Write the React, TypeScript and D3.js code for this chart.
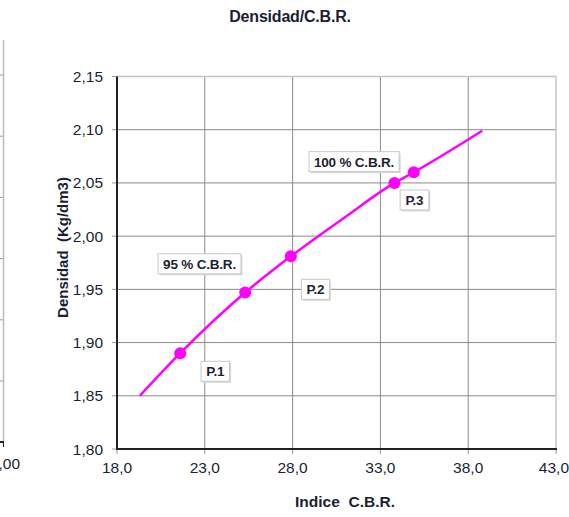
import React, { useEffect, useRef } from "react";
import * as d3 from "d3";

const title = "Densidad/C.B.R.";
const xTitle = "Indice  C.B.R.";
const yTitle = "Densidad  (Kg/dm3)";
const xTicks = [18, 23, 28, 33, 38, 43];
const yTicks = [1.8, 1.85, 1.9, 1.95, 2.0, 2.05, 2.1, 2.15];
const pointX = [21.6, 25.3, 27.9, 33.8, 34.9];
const pointY = [1.89, 1.947, 1.981, 2.05, 2.06];
const curveX = [19.3, 21.6, 25.3, 27.9, 31.0, 33.8, 34.9, 38.8];
const curveY = [1.85, 1.89, 1.947, 1.981, 2.018, 2.05, 2.06, 2.099];
const labelText = ["100 % C.B.R.", "95 % C.B.R.", "P.1", "P.2", "P.3"];
const labelX = [31.5, 22.7, 23.6, 29.3, 34.94];
const labelY = [2.07, 1.974, 1.873, 1.95, 2.034];
const leftChartLabel = "4,00";

const W = 569;
const H = 517;
const M = { left: 117, right: 556, top: 76.5, bottom: 449 };
const FONT = "'Liberation Sans', Arial, sans-serif";
const TXT = "#1c1f33";

export default function App() {
  const ref = useRef<SVGSVGElement>(null);
  useEffect(() => {
    const svg = d3.select(ref.current);
    svg.selectAll("*").remove();
    const x = d3.scaleLinear().domain([18, 43]).range([M.left, M.right]);
    const y = d3.scaleLinear().domain([1.8, 2.15]).range([M.bottom, M.top]);

    svg.append("rect").attr("width", W).attr("height", H).attr("fill", "#fff");

    // partial left chart
    const lg = svg.append("g");
    const leftYs = d3.range(7).map((i) => 75 + i * 61.2);
    leftYs.forEach((yy) =>
      lg.append("line").attr("x1", 0).attr("x2", 3).attr("y1", yy).attr("y2", yy).attr("stroke", "#999")
    );
    lg.append("line").attr("x1", 3.5).attr("x2", 3.5).attr("y1", 40).attr("y2", 442).attr("stroke", "#bbb").attr("stroke-width", 1.5);
    lg.append("line").attr("x1", 0).attr("x2", 4).attr("y1", 442).attr("y2", 442).attr("stroke", "#222").attr("stroke-width", 2);
    lg.append("line").attr("x1", 3.5).attr("x2", 3.5).attr("y1", 442).attr("y2", 447).attr("stroke", "#222");
    lg.append("text").attr("x", 5).attr("y", 469).attr("text-anchor", "middle").attr("font-family", FONT).attr("font-size", 15.5).attr("fill", TXT).text(leftChartLabel);

    // gridlines
    const g = svg.append("g");
    xTicks.slice(1, -1).forEach((t) =>
      g.append("line").attr("x1", x(t)).attr("x2", x(t)).attr("y1", M.top).attr("y2", M.bottom).attr("stroke", "#8a8a8a").attr("stroke-width", 1)
    );
    yTicks.slice(1, -1).forEach((t) =>
      g.append("line").attr("x1", M.left).attr("x2", M.right).attr("y1", y(t)).attr("y2", y(t)).attr("stroke", "#8a8a8a").attr("stroke-width", 1)
    );
    // border top / right
    g.append("line").attr("x1", M.left).attr("x2", M.right).attr("y1", M.top).attr("y2", M.top).attr("stroke", "#c4c4c4").attr("stroke-width", 1.5);
    g.append("line").attr("x1", M.right).attr("x2", M.right).attr("y1", M.top).attr("y2", M.bottom).attr("stroke", "#c4c4c4").attr("stroke-width", 1.5);

    // ticks
    yTicks.forEach((t) => {
      g.append("line").attr("x1", M.left - 5).attr("x2", M.left).attr("y1", y(t)).attr("y2", y(t)).attr("stroke", "#999");
      g.append("text").attr("x", 103).attr("y", y(t) + 5.5).attr("text-anchor", "end").attr("font-family", FONT).attr("font-size", 15.5).attr("fill", TXT)
        .text(d3.format(".2f")(t).replace(".", ","));
    });
    xTicks.forEach((t) => {
      g.append("line").attr("x1", x(t)).attr("x2", x(t)).attr("y1", M.bottom).attr("y2", M.bottom + 5).attr("stroke", "#999");
      g.append("text").attr("x", t === 43 ? W : x(t)).attr("y", 473).attr("text-anchor", t === 43 ? "end" : "middle").attr("font-family", FONT).attr("font-size", 15.5).attr("fill", TXT)
        .text(d3.format(".1f")(t).replace(".", ","));
    });
    // axes
    g.append("line").attr("x1", M.left).attr("x2", M.left).attr("y1", M.top).attr("y2", M.bottom + 1).attr("stroke", "#222").attr("stroke-width", 2);
    g.append("line").attr("x1", M.left - 1).attr("x2", M.right + 1).attr("y1", M.bottom).attr("y2", M.bottom).attr("stroke", "#222").attr("stroke-width", 2);

    // curve
    const line = d3.line<number>().x((i) => x(curveX[i])).y((i) => y(curveY[i])).curve(d3.curveMonotoneX);
    svg.append("path").attr("d", line(d3.range(curveX.length))).attr("fill", "none").attr("stroke", "#ff00ff").attr("stroke-width", 2.5);
    pointX.forEach((px, i) =>
      svg.append("circle").attr("cx", x(px)).attr("cy", y(pointY[i])).attr("r", 6).attr("fill", "#ff00ff")
    );

    // labels
    labelText.forEach((t, i) => {
      const lgp = svg.append("g");
      const tx = lgp.append("text").attr("x", x(labelX[i])).attr("y", y(labelY[i]) + 5).attr("text-anchor", "middle")
        .attr("font-family", FONT).attr("font-weight", "bold").attr("font-size", 13.5).attr("letter-spacing", -0.2).attr("fill", TXT).text(t);
      const bb = (tx.node() as SVGTextElement).getBBox();
      const bw = bb.width + 10, bh = 20;
      const bx = x(labelX[i]) - bw / 2, by = y(labelY[i]) - bh / 2;
      lgp.insert("rect", "text").attr("x", bx + 1.5).attr("y", by + 1.5).attr("width", bw).attr("height", bh).attr("fill", "#d8d8d8");
      lgp.insert("rect", "text").attr("x", bx).attr("y", by).attr("width", bw).attr("height", bh).attr("fill", "#fff").attr("stroke", "#c8c8c8").attr("stroke-width", 1);
    });

    // titles
    svg.append("text").attr("x", 290).attr("y", 22).attr("text-anchor", "middle").attr("font-family", FONT).attr("font-weight", "bold").attr("font-size", 16).attr("letter-spacing", -0.2).attr("fill", TXT).text(title);
    svg.append("text").attr("x", 345).attr("y", 507).attr("text-anchor", "middle").attr("font-family", FONT).attr("font-weight", "bold").attr("font-size", 15.5).attr("fill", TXT).style("white-space", "pre").text(xTitle);
    svg.append("text").attr("transform", "translate(68,247.5) rotate(-90)").attr("text-anchor", "middle").attr("font-family", FONT).attr("font-weight", "bold").attr("font-size", 15).attr("fill", TXT).style("white-space", "pre").text(yTitle);
  }, []);
  return (
    <svg ref={ref} width={W} height={H} style={{ position: "absolute", left: 0, top: 0 }} />
  );
}
